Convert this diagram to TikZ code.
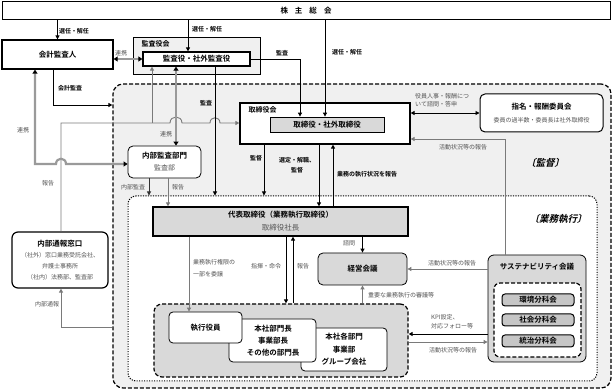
\documentclass[tikz,border=0pt]{standalone}
\usepackage{fontspec}
\setmainfont{Noto Sans CJK JP}[BoldFont={Noto Sans CJK JP Bold}]
\newfontfamily\slfont{Noto Sans CJK JP Bold}[FakeSlant=0.25]
\usetikzlibrary{arrows.meta,calc}
\definecolor{areagray}{HTML}{F0F0F0}
\definecolor{boxgray}{HTML}{D9D9D9}
\definecolor{subgray}{HTML}{C6C6C6}
\definecolor{linegray}{HTML}{7A7A7A}
\definecolor{linkgray}{HTML}{9A9A9A}
\definecolor{txtgray}{HTML}{555555}
\begin{document}
\begin{tikzpicture}[x=1pt,y=-1pt,
  arr/.style={-{Triangle[length=4pt,width=4pt]},line width=0.9pt,draw=black},
  garr/.style={-{Triangle[length=4pt,width=4pt]},line width=0.9pt,draw=linegray},
  barr/.style={{Triangle[length=4pt,width=4pt]}-{Triangle[length=4pt,width=4pt]},line width=0.9pt,draw=black},
  lnk/.style={{Triangle[length=4pt,width=5pt,black]}-{Triangle[length=4pt,width=5pt,black]},line width=2.2pt,draw=linkgray},
  box/.style={draw,line width=1pt,inner sep=0pt,align=center},
  ttl/.style={font=\bfseries\fontsize{7.5}{9}\selectfont},
  lbl/.style={font=\bfseries\fontsize{6}{8}\selectfont,inner sep=0pt,align=center},
  glbl/.style={font=\fontsize{6}{8.5}\selectfont,text=txtgray,inner sep=0pt,align=center},
  dashedarea/.style={draw,line width=1.2pt,dash pattern=on 4pt off 2pt},
]
\useasboundingbox (0,0) rectangle (614,390);

% areas
\node[dashedarea,fill=areagray,rounded corners=10pt,minimum width=498pt,minimum height=304pt] (kantoku) at (362,236) {};
\node[draw,line width=1pt,dash pattern=on 1.2pt off 1.3pt,fill=white,rounded corners=8pt,minimum width=469pt,minimum height=185pt] (gyomu) at (362.5,288.5) {};

% top
\node[box,minimum width=608pt,minimum height=18pt,ttl] (kabu) at (306,11) {株\hspace{7pt}主\hspace{7pt}総\hspace{7pt}会};
\node[box,line width=1.2pt,minimum width=111pt,minimum height=29pt,ttl] (kaikei) at (57.5,54.5) {会計監査人};
\node[box,fill=areagray,line width=0.6pt,minimum width=127pt,minimum height=37pt] (kskai) at (196.5,55.5) {};
\node[anchor=west,font=\bfseries\fontsize{7}{8}\selectfont] (kskailbl) at (138,44) {監査役会};
\node[box,fill=white,line width=1.2pt,minimum width=107pt,minimum height=14pt,ttl] (ksyaku) at (196.5,59) {監査役・社外監査役};

% board
\node[box,fill=white,line width=1.2pt,minimum width=170pt,minimum height=41pt] (torikai) at (325,123.5) {};
\node[anchor=west,font=\bfseries\fontsize{7}{8}\selectfont] (torikailbl) at (245,110) {取締役会};
\node[box,fill=boxgray,line width=0.8pt,minimum width=114pt,minimum height=15pt,ttl] (torinner) at (327,124.5) {取締役・社外取締役};

\node[box,fill=white,rounded corners=5pt,line width=1pt,minimum width=123pt,minimum height=38pt,font=\bfseries\fontsize{7.5}{13}\selectfont] (shimei) at (541.5,113) {指名・報酬委員会\\{\mdseries\fontsize{6}{8}\selectfont\color{txtgray}委員の過半数・委員長は社外取締役}};

\node[box,fill=white,rounded corners=5pt,line width=0.8pt,minimum width=73pt,minimum height=32pt,font=\bfseries\fontsize{7.5}{12}\selectfont] (naibukansa) at (164.5,162) {内部監査部門\\{\mdseries\fontsize{7}{8}\selectfont\color{txtgray}監査部}};

\node[box,fill=white,rounded corners=6pt,line width=1.2pt,minimum width=96pt,minimum height=56pt,font=\fontsize{6}{11}\selectfont] (tsuho) at (60,260) {{\bfseries\fontsize{7.5}{9}\selectfont 内部通報窓口}\\{\color{txtgray}（社外）窓口業務受託会社、}\\{\color{txtgray}弁護士事務所}\\{\color{txtgray}（社内）法務部、監査部}};

% execution
\node[box,fill=boxgray,line width=1.2pt,minimum width=255pt,minimum height=29pt,font=\bfseries\fontsize{7.5}{13}\selectfont] (daihyo) at (280.5,221.5) {代表取締役（業務執行取締役）\\{\mdseries\color{txtgray}取締役社長}};

\node[box,fill=boxgray,rounded corners=5pt,line width=0.8pt,minimum width=89pt,minimum height=32pt,ttl] (keiei) at (362.5,269) {経営会議};

\node[box,fill=boxgray,rounded corners=6pt,line width=0.8pt,minimum width=98pt,minimum height=107pt] (sustain) at (537,308.5) {};
\node[ttl] (sustainlbl) at (537,267) {サステナビリティ会議};
\node[dashedarea,fill=white,rounded corners=6pt,minimum width=87pt,minimum height=74pt] (sustinner) at (537.5,320) {};
\node[box,fill=subgray,rounded corners=3pt,minimum width=72pt,minimum height=12pt,ttl] (kankyo) at (538,300) {環境分科会};
\node[box,fill=subgray,rounded corners=3pt,minimum width=72pt,minimum height=12pt,ttl] (shakai) at (538,320) {社会分科会};
\node[box,fill=subgray,rounded corners=3pt,minimum width=72pt,minimum height=12pt,ttl] (tochi) at (538,341) {統治分科会};

\node[dashedarea,fill=boxgray,rounded corners=8pt,minimum width=254pt,minimum height=73pt] (group) at (281,340.5) {};
\node[box,fill=white,rounded corners=4pt,line width=0.8pt,minimum width=86pt,minimum height=43pt,font=\bfseries\fontsize{7.5}{12.5}\selectfont] (kakubumon) at (344,349.5) {本社各部門\\事業部\\グループ会社};
\node[box,fill=white,rounded corners=4pt,line width=0.8pt,minimum width=87pt,minimum height=43pt,font=\bfseries\fontsize{7.5}{12}\selectfont] (bucho) at (272.5,340.5) {\hspace*{0pt}\\[-12pt]\hspace*{0pt}};
\node[font=\bfseries\fontsize{7.5}{12}\selectfont,align=center] (bucholbl) at (273,341) {本社部門長\\事業部長\\その他の部門長};
\node[box,fill=white,rounded corners=4pt,line width=0.8pt,minimum width=73pt,minimum height=31pt,ttl] (shikko) at (205.5,327.5) {執行役員};

% ---- connectors
\draw[arr] (kabu.south -| kaikei.north) -- (kaikei.north);
\draw[arr] (kabu.south -| 188,0) -- (ksyaku.north -| 188,0);
\draw[arr] (kabu.south -| 325,0) -- (torinner.north -| 325,0);
\draw[arr] (ksyaku.east) -- (300,59) -- (torinner.north -| 300,0);
\draw[lnk] (ksyaku.west -| kaikei.east) -- (ksyaku.west);
\draw[arr] (kaikei.south -| 53,0) -- (53,105) -- (kantoku.west |- 0,105);

\coordinate (jb) at (152,123);
\draw[garr] (tsuho.north -| 61,0) -- (61,123) -- (170,123) .. controls (170,115) and (182,115) .. (182,123) -- (210,123) .. controls (210,116) and (220,116) .. (220,123) -- (torikai.west |- 0,123);
\draw[garr] (jb) -- (ksyaku.south -| jb);
\draw[lnk] (kaikei.south -| 35,0) -- (35,164) -- (56,164) .. controls (56,157) and (66,157) .. (66,164) -- (naibukansa.west |- 0,164);
\draw[lnk] (ksyaku.south -| 176,0) -- (naibukansa.north -| 176,0);
\draw[arr] (ksyaku.south -| 215,0) -- (gyomu.north -| 215,0);

\draw[arr] (torikai.south -| 264,0) -- (gyomu.north -| 264,0);
\draw[arr] (torikai.south -| 319,0) -- (daihyo.north -| 319,0);
\draw[arr] (daihyo.north -| 333,0) -- (torikai.south -| 333,0);
\draw[barr] (torikai.east |- 0,113) -- (shimei.west |- 0,113);
\draw[garr] (sustain.north -| 505,0) -- (505,139) -- (torikai.east |- 0,139);

\draw[arr,draw=black!80] (naibukansa.south -| 149,0) -- (gyomu.north -| 149,0);
\draw[garr] (naibukansa.south -| 168,0) -- (daihyo.north -| 168,0);

\draw[garr] (daihyo.south -| 189,0) -- (shikko.north -| 189,0);
\draw[arr] (daihyo.south -| 286,0) -- (group.north -| 286,0);
\draw[arr] (group.north -| 293,0) -- (daihyo.south -| 293,0);
\draw[arr] (daihyo.south -| keiei.north) -- (keiei.north);
\draw[garr] (group.north -| keiei.south) -- (keiei.south);
\draw[garr] (sustain.west |- keiei.east) -- (keiei.east);
\draw[arr] (sustain.west |- 0,334) -- (group.east |- 0,334);
\draw[garr] (group.east |- 0,342) -- (sustain.west |- 0,342);
\draw[garr] (kantoku.west |- 0,327) -- (61,327) -- (tsuho.south -| 61,0);

% ---- labels
\node[lbl] (l1) at (74,31) {選任・解任};
\node[lbl] (l2) at (207,29) {選任・解任};
\node[lbl] (l3) at (347,52) {選任・解任};
\node[glbl] (l4) at (121,53) {連携};
\node[lbl] (l5) at (70,88) {会計監査};
\node[lbl] (l6) at (282,53) {監査};
\node[lbl] (l7) at (206,103) {監査};
\node[glbl] (l8) at (166,134) {連携};
\node[glbl] (l9) at (23,130) {連携};
\node[glbl] (l10) at (48,183) {報告};
\node[glbl] (l11) at (133,187) {内部監査};
\node[glbl] (l12) at (178,187) {報告};
\node[lbl] (l13) at (256,158) {監督};
\node[lbl,font=\bfseries\fontsize{6}{10}\selectfont] (l14) at (297,165) {選定・解職、\\監督};
\node[lbl,anchor=west] (l15) at (337,174) {業務の執行状況を報告};
\node[glbl,anchor=west,align=left] (l16) at (415,100) {役員人事・報酬につ\\いて諮問・答申};
\node[glbl] (l17) at (463,147) {活動状況等の報告};
\node[font=\slfont\fontsize{9.5}{10}\selectfont] (l18) at (545,163) {〔監督〕};
\node[font=\slfont\fontsize{9.5}{10}\selectfont] (l19) at (558,219) {〔業務執行〕};
\node[glbl,anchor=west,align=left,font=\fontsize{6}{12}\selectfont] (l20) at (193,268) {業務執行権限の\\一部を委譲};
\node[glbl] (l21) at (266,266) {指揮・命令};
\node[glbl] (l22) at (303,266) {報告};
\node[glbl] (l23) at (349,243) {諮問};
\node[glbl] (l24) at (452,263) {活動状況等の報告};
\node[glbl,anchor=west] (l25) at (368,295) {重要な業務執行の審議等};
\node[glbl,anchor=west,align=left,font=\fontsize{6}{9}\selectfont] (l26) at (431,322) {KPI設定、\\対応フォロー等};
\node[glbl] (l27) at (453,350) {活動状況等の報告};
\node[glbl] (l28) at (47,304) {内部通報};
\end{tikzpicture}
\end{document}
